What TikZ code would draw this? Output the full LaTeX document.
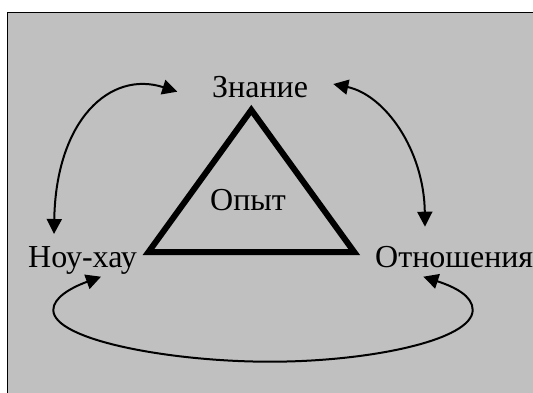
\documentclass[tikz,border=0pt]{standalone}
\usepackage{fontspec}
\setmainfont{Liberation Serif}
\usetikzlibrary{arrows.meta}
\definecolor{bggray}{HTML}{C0C0C0}
\tikzset{
  lbl/.style={font=\fontsize{32}{36}\selectfont, anchor=base west, inner sep=0pt},
  link/.style={line width=2pt, {Triangle[length=15pt,width=15pt]}-{Triangle[length=15pt,width=15pt]}},
  tri/.style={line width=6pt, line join=miter}
}
\begin{document}
\begin{tikzpicture}[x=1pt,y=-1pt]
\useasboundingbox (0,0) rectangle (533,392);
\fill[white] (0,0) rectangle (533,392);
\draw[fill=bggray, line width=1.5pt] (7.5,12.3) rectangle (545,405);
% triangle
\coordinate (ta) at (251.3,110);
\coordinate (tl) at (148.5,252);
\coordinate (tr) at (354.2,252);
\draw[tri] (ta) -- (tl) -- (tr) -- cycle;
% labels
\node[lbl] (zn) at (212,97) {Знание};
\node[lbl] (op) at (210,210.7) {Опыт};
\node[lbl] (nh) at (28,267) {Ноу-хау};
\node[lbl] (ot) at (375,267.5) {Отношения};
% arrow end points
\coordinate (a1s) at (54,234);
\coordinate (a1e) at (177.3,91.7);
\coordinate (a2s) at (333.3,84);
\coordinate (a2e) at (425,226.7);
\coordinate (a3s) at (101,276.7);
\coordinate (a3e) at (423.3,276.7);
\coordinate (lw) at (53.3,310);
\coordinate (lb) at (270,361.7);
\coordinate (le) at (472.7,310);
\draw[link] (a1s) .. controls (56,120) and (110,70) .. (a1e);
\draw[link] (a2s) .. controls (385,95) and (424,150) .. (a2e);
\draw[link] (a3s) .. controls (70,288) and (53.3,298) .. (lw)
  .. controls (53.3,340) and (170,361.7) .. (lb)
  .. controls (370,361.7) and (472.7,340) .. (le)
  .. controls (472.7,296) and (455,287) .. (a3e);
\end{tikzpicture}
\end{document}
